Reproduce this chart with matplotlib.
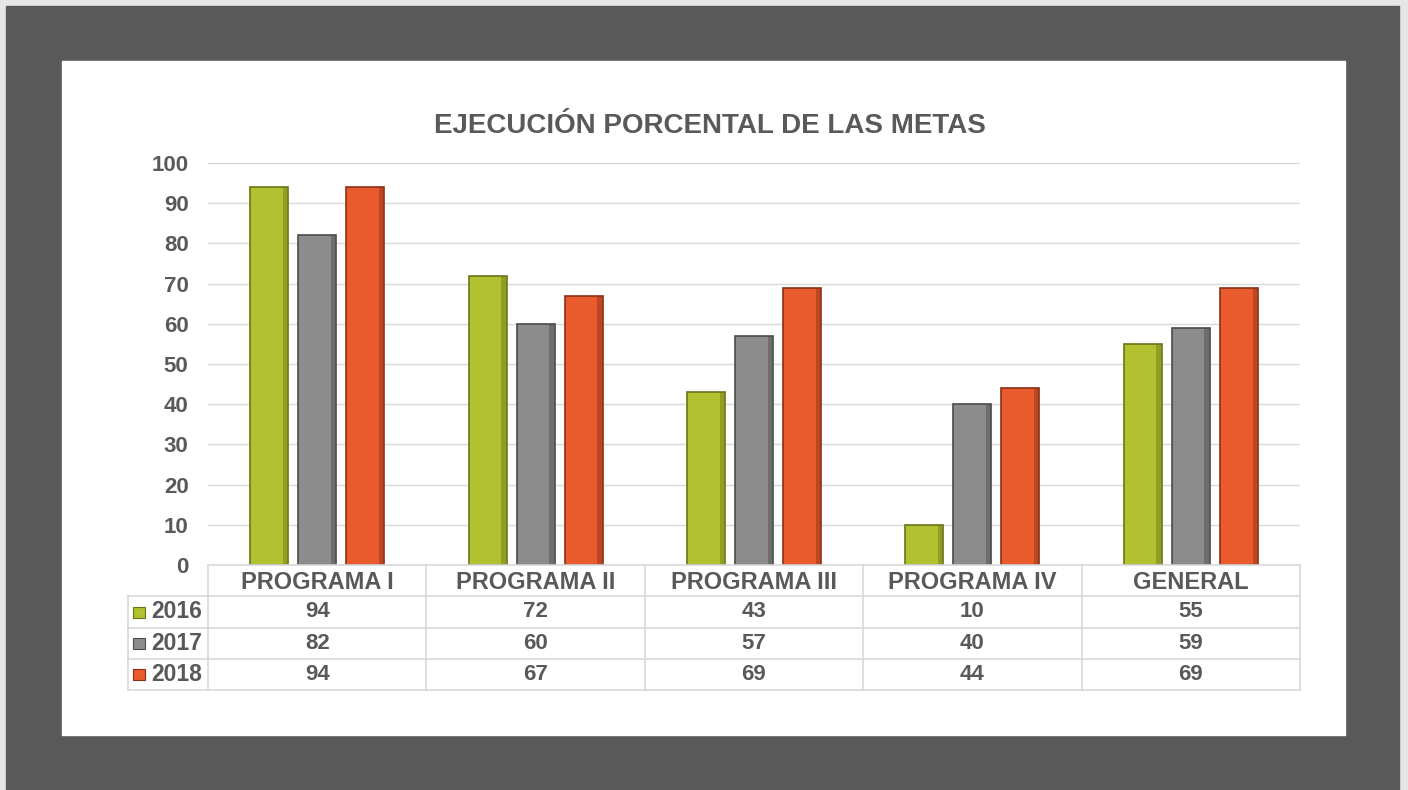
import matplotlib.pyplot as plt
import numpy as np
from matplotlib.patches import Rectangle

plt.rcParams['font.family'] = ['Liberation Sans', 'DejaVu Sans']

categories = ['PROGRAMA I', 'PROGRAMA II', 'PROGRAMA III', 'PROGRAMA IV', 'GENERAL']
years = ['2016', '2017', '2018']
v2016 = [94, 72, 43, 10, 55]
v2017 = [82, 60, 57, 40, 59]
v2018 = [94, 67, 69, 44, 69]
series = [v2016, v2017, v2018]
colors = ['#b1c12f', '#8c8c8c', '#e95a2d']
edges = ['#6b7518', '#4a4a4a', '#8a3014']
txt = '#595959'
grid = '#d9d9d9'

W, H = 1408, 790
fig = plt.figure(figsize=(W / 100, H / 100), dpi=100, facecolor='#e6e6e6')

# dark frame and white panel
fig.patches.append(Rectangle((6 / W, 0), 1393 / W, 784 / H, transform=fig.transFigure,
                             color='#595959', zorder=0))
fig.patches.append(Rectangle((62 / W, (H - 735) / H), 1283 / W, 674 / H,
                             transform=fig.transFigure, color='white', zorder=0))

ax = fig.add_axes([208 / W, (H - 565) / H, 1092 / W, 402 / H])
ax.set_zorder(2)
ax.set_facecolor('none')
x = np.arange(len(categories))
w = 0.174
step = 0.22
for i, vals in enumerate(series):
    ax.bar(x + (i - 1) * step, vals, width=w, color=colors[i], edgecolor=edges[i],
           linewidth=1.2, zorder=3)
    # thin shadow on right side for a bevel look
    ax.bar(x + (i - 1) * step + w * 0.42, vals, width=w * 0.12, color=edges[i],
           alpha=0.45, linewidth=0, zorder=4)

ax.set_xlim(-0.5, 4.5)
ax.set_ylim(0, 100)
ax.set_yticks(range(0, 101, 10))
ax.set_xticks([])
ax.tick_params(axis='y', length=0, pad=14, labelsize=16, labelcolor=txt)
for lab in ax.get_yticklabels():
    lab.set_fontweight('bold')
ax.grid(axis='y', color=grid, linewidth=1, zorder=0)
for s in ax.spines.values():
    s.set_visible(False)

fig.text(710 / W, (H - 126) / H, 'EJECUCIÓN PORCENTAL DE LAS METAS', ha='center',
         va='center', fontsize=20, fontweight='bold', color=txt, zorder=3)

# data table below the plot
tab = fig.add_axes([128 / W, (H - 690) / H, 1172 / W, 125 / H])
tab.set_zorder(2)
lx = -0.5 - 80 / 218.4
tab.set_xlim(lx, 4.5)
tab.set_ylim(4, 0)
tab.axis('off')
for yy in range(0, 5):
    x0 = -0.5 if yy == 0 else lx
    tab.plot([x0, 4.5], [yy, yy], color=grid, lw=1.2, clip_on=False)
for xx in np.arange(-0.5, 4.6, 1.0):
    tab.plot([xx, xx], [0, 4], color=grid, lw=1.2, clip_on=False)
tab.plot([lx, lx], [1, 4], color=grid, lw=1.2, clip_on=False)

for j, c in enumerate(categories):
    tab.text(j, 0.55, c, ha='center', va='center', fontsize=17, fontweight='bold', color=txt)
for i, vals in enumerate(series):
    for j, v in enumerate(vals):
        tab.text(j, i + 1.5, str(v), ha='center', va='center', fontsize=16,
                 fontweight='bold', color=txt)
    tab.add_patch(Rectangle((lx + 0.025, i + 1.33), 0.055, 0.36, facecolor=colors[i],
                            edgecolor=edges[i], lw=0.8, clip_on=False))
    tab.text(lx + 0.105, i + 1.5, years[i], ha='left', va='center', fontsize=16.5,
             fontweight='bold', color=txt)

fig.savefig('out.png', dpi=100, facecolor=fig.get_facecolor())
